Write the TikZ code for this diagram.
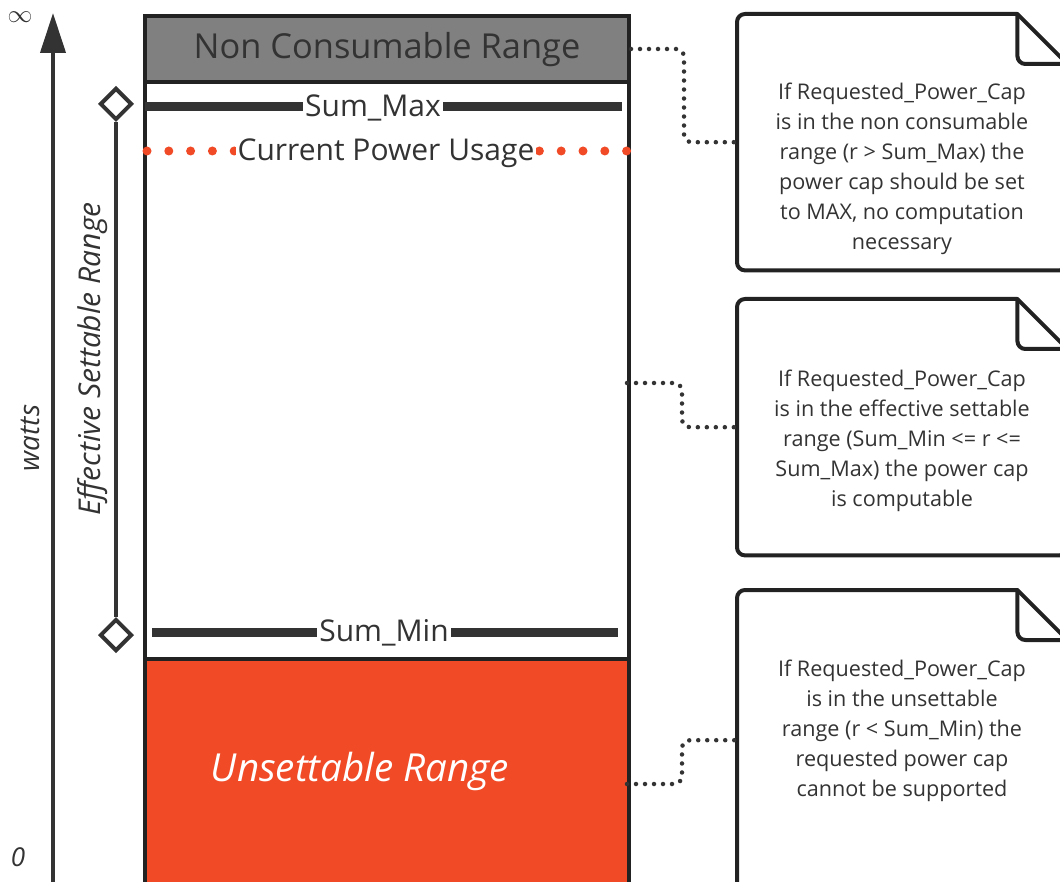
\documentclass[tikz,border=0pt]{standalone}
\usepackage{fontspec}
\setmainfont{Open Sans}
\usetikzlibrary{positioning,arrows.meta,calc,shapes.geometric}

\definecolor{ink}{HTML}{333333}
\definecolor{edge}{HTML}{222222}
\definecolor{hot}{HTML}{F04A27}
\definecolor{slab}{HTML}{808080}

\begin{document}
\begin{tikzpicture}[
  x=1pt, y=-1pt,
  every node/.style={text=ink},
  zone/.style={rectangle, draw=edge, line width=4pt, minimum width=484pt,
               anchor=north west, inner sep=0pt},
  level/.style={draw=ink, line width=9pt},
  levellabel/.style={fill=white, inner sep=2pt, font=\fontsize{30}{35}\selectfont},
  usage/.style={draw=hot, line width=9pt, line cap=round, dash pattern=on 0pt off 21.8pt},
  diamondmark/.style={diamond, draw=ink, line width=4pt, fill=white,
                      minimum size=32pt, inner sep=0pt},
  axis/.style={draw=ink, line width=4pt, -{Triangle[length=40pt,width=25pt]}},
  note/.style={rectangle, minimum width=330pt, anchor=north west, inner sep=0pt},
  notetext/.style={align=center, font=\fontsize{21.6}{30}\selectfont},
  noteline/.style={draw=edge, line width=4pt, line join=round},
  link/.style={draw=ink, line width=4.5pt, line cap=round,
               dash pattern=on 0pt off 9pt, rounded corners=8pt}
]
  \clip (0,0) rectangle (1060,882);

  % column of ranges
  \node[zone, fill=slab, minimum height=66pt] (ncr) at (143,14) {};
  \node[zone, fill=white, minimum height=577pt] (eff) at (143,80) {};
  \node[zone, fill=hot, minimum height=240pt] (unset) at (143,657) {};
  \node[font=\fontsize{34.4}{40}\selectfont] (ncrtext) at ($(ncr.center)+(0,1)$) {Non Consumable Range};
  \node[text=white, font=\itshape\fontsize{38.6}{44}\selectfont] (unsettext) at (360,771) {Unsettable Range};

  % levels
  \coordinate (smaxL) at (145,107);
  \coordinate (smaxR) at (622,107);
  \draw[level] (smaxL) -- (smaxR);
  \node[levellabel] (smax) at (373,108) {Sum\_Max};

  \coordinate (usageL) at (147,151);
  \coordinate (usageR) at (627,151);
  \draw[usage] (usageL) -- (usageR);
  \node[levellabel] (usage) at (386,153) {Current Power Usage};

  \coordinate (sminL) at (152,632);
  \coordinate (sminR) at (618,632);
  \draw[level] (sminL) -- (sminR);
  \node[levellabel] (smin) at (384,633) {Sum\_Min};

  % watts axis
  \coordinate (zero) at (53,882);
  \coordinate (inf) at (53,13);
  \draw[axis] (zero) -- (inf);
  \node[font=\fontsize{27}{27}\selectfont, inner sep=0pt] (inflabel) at (20,17) {$\infty$};
  \node[font=\itshape\fontsize{26}{26}\selectfont] (zerolabel) at (18,857) {0};
  \node[rotate=90, font=\itshape\fontsize{28}{28}\selectfont] (watts) at (30,438) {watts};

  % effective settable range
  \node[diamondmark] (top) at (116,104) {};
  \node[diamondmark] (bot) at (116,635) {};
  \draw[draw=ink, line width=3.5pt] (top) -- (bot);
  \node[rotate=90, font=\itshape\fontsize{30}{30}\selectfont] (effrange) at (93,359) {Effective Settable Range};

  % notes
  \node[note, minimum height=256pt] (n1) at (737,14) {};
  \node[note, minimum height=256pt] (n2) at (737,299) {};
  \node[note, minimum height=300pt] (n3) at (737,590) {};
  \foreach \n in {n1,n2,n3} {
    \draw[noteline] ($(\n.north east)+(-50,0)$) [rounded corners=8pt] -- (\n.north west)
      -- (\n.south west) -- (\n.south east) [sharp corners] -- ($(\n.north east)+(0,50)$) -- cycle;
    \draw[noteline, rounded corners=8pt] ($(\n.north east)+(-50,0)$) -- ++(0,50)
      -- ($(\n.north east)+(0,50)$);
  }

  \node[notetext] (t1) at (902,169) {If Requested\_Power\_Cap\\is in the non consumable\\range (r > Sum\_Max) the\\power cap should be set\\to MAX, no computation\\necessary};
  \node[notetext] (t2) at (902,441) {If Requested\_Power\_Cap\\is in the effective settable\\range (Sum\_Min <= r <=\\Sum\_Max) the power cap\\is computable};
  \node[notetext] (t3) at (902,731) {If Requested\_Power\_Cap\\is in the unsettable\\range (r < Sum\_Min) the\\requested power cap\\cannot be supported};

  % links to notes
  \coordinate (effout) at (627,383);
  \coordinate (unsetout) at (627,784);
  \draw[link] (ncr.east) -- ($(ncr.east)!.5!(ncr.east -| n1.west)$) |- (n1.west);
  \draw[link] (effout) -- ($(effout)!.5!(effout -| n2.west)$) |- (n2.west);
  \draw[link] (unsetout) -- ($(unsetout)!.5!(unsetout -| n3.west)$) |- (n3.west);
\end{tikzpicture}
\end{document}
